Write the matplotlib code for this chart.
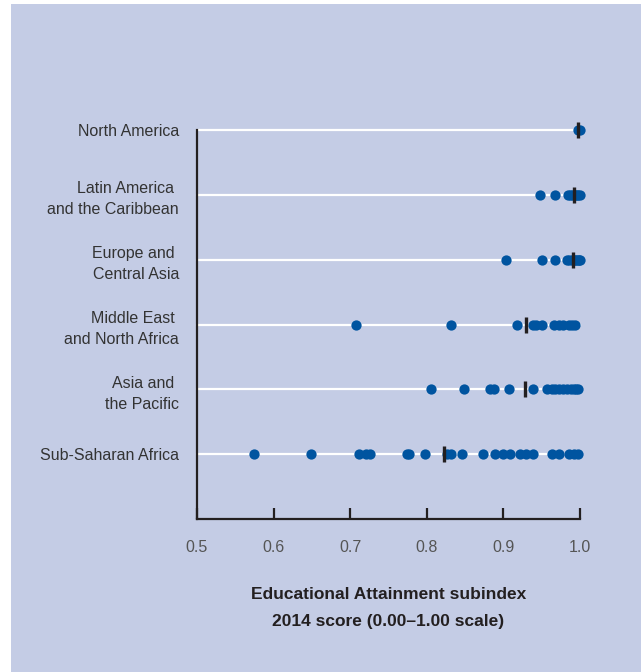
import matplotlib
matplotlib.use("Agg")
import matplotlib.pyplot as plt
from matplotlib.patches import Rectangle

plt.rcParams['font.family'] = ['Liberation Sans', 'DejaVu Sans']

regions = ["North America",
           "Latin America \nand the Caribbean",
           "Europe and \nCentral Asia",
           "Middle East \nand North Africa",
           "Asia and \nthe Pacific",
           "Sub-Saharan Africa"]

north_america = [0.997, 1.0]
latin_america = [0.948, 0.968, 0.984, 0.987, 0.990, 0.992, 0.994, 0.996, 0.998, 1.0]
europe = [0.904, 0.951, 0.968, 0.983, 0.986, 0.989, 0.991, 0.993, 0.995, 0.997, 0.999, 1.0]
mena = [0.707, 0.831, 0.918, 0.938, 0.943, 0.950, 0.966, 0.972, 0.978, 0.985, 0.990, 0.994]
asia_pacific = [0.805, 0.849, 0.883, 0.888, 0.907, 0.939, 0.957, 0.963, 0.968, 0.973,
                0.978, 0.983, 0.988, 0.992, 0.995, 0.998]
ssa = [0.575, 0.649, 0.711, 0.721, 0.726, 0.774, 0.777, 0.798, 0.826, 0.832, 0.846,
       0.874, 0.889, 0.899, 0.908, 0.922, 0.929, 0.938, 0.963, 0.973, 0.985, 0.992, 0.998]
scores = [north_america, latin_america, europe, mena, asia_pacific, ssa]

averages = [0.997, 0.992, 0.991, 0.929, 0.928, 0.822]

xticks = [0.5, 0.6, 0.7, 0.8, 0.9, 1.0]

W, H = 641, 672
fig = plt.figure(figsize=(W / 100, H / 100), dpi=100)
fig.patch.set_facecolor("white")
bg = "#c4cce5"
fig.patches.append(Rectangle((11 / W, 0), 1 - 11 / W, 1 - 4 / H, transform=fig.transFigure,
                             facecolor=bg, edgecolor="none", zorder=-10))

ax = fig.add_axes([197 / W, (H - 519) / H, (580 - 197) / W, (519 - 130) / H])
ax.set_facecolor("none")
ax.set_zorder(5)

n = len(regions)
for i, (vals, avg) in enumerate(zip(scores, averages)):
    y = n - 1 - i
    ax.plot([0.5, 1.0], [y, y], color="white", lw=1.6, zorder=1, clip_on=False)
    ax.plot(vals, [y] * len(vals), "o", color="#0054a0", ms=7.4, mew=0, zorder=2, clip_on=False)
    ax.plot([avg], [y], marker="|", color="#231f20", ms=11.5, mew=2.4, zorder=3, clip_on=False)

ax.set_xlim(0.5, 1.0)
ax.set_ylim(-1, n - 1)
ax.set_yticks(range(n))
ax.set_yticklabels(regions[::-1], fontsize=11.5, color="#333333", linespacing=1.5)
ax.tick_params(axis="y", length=0, pad=13)

ax.set_xticks(xticks)
ax.set_xticklabels([f"{t:.1f}" for t in xticks], fontsize=11.5, color="#555555")
ax.tick_params(axis="x", direction="in", length=8, width=1.6, color="#231f20", pad=15)

for s in ["top", "right"]:
    ax.spines[s].set_visible(False)
for s in ["left", "bottom"]:
    ax.spines[s].set_linewidth(1.6)
    ax.spines[s].set_color("#231f20")

ax.set_xlabel("Educational Attainment subindex\n2014 score (0.00\u20131.00 scale)",
              fontsize=12.5, fontweight="bold", color="#231f20", labelpad=23, linespacing=2.0)

fig.savefig("out.png", dpi=100, facecolor=fig.get_facecolor())
